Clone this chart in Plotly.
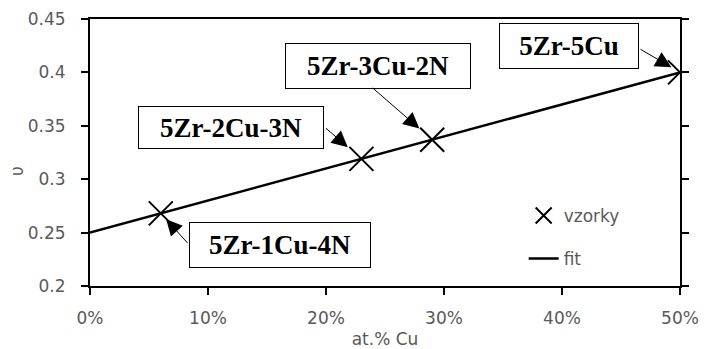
import plotly.graph_objects as go

# data
sample_x = [0.060, 0.230, 0.290, 0.500]
sample_y = [0.268, 0.319, 0.337, 0.400]
sample_labels = ["5Zr-1Cu-4N", "5Zr-2Cu-3N", "5Zr-3Cu-2N", "5Zr-5Cu"]
fit_x = [0.0, 0.5]
fit_y = [0.25, 0.40]
x_ticks = [0.0, 0.1, 0.2, 0.3, 0.4, 0.5]
y_ticks = [0.2, 0.25, 0.3, 0.35, 0.4, 0.45]

# label box placement (pixel offsets from the point) and arrow geometry
box_shift = {
    "5Zr-1Cu-4N": (119, -32, 180, 44),
    "5Zr-2Cu-3N": (-130, 31, 184, 41),
    "5Zr-3Cu-2N": (-54, 74, 184, 44),
    "5Zr-5Cu": (-111, 26, 138, 44),
}
arrow_tail = {
    "5Zr-1Cu-4N": (28, 31, 8),
    "5Zr-2Cu-3N": (-37, -32, 18),
    "5Zr-3Cu-2N": (-61, -53, 17),
    "5Zr-5Cu": (-41, -24, 10),
}

TICK_FONT = dict(family="DejaVu Sans", size=17, color="#595959")

fig = go.Figure()
fig.add_trace(go.Scatter(
    x=fit_x, y=fit_y, mode="lines", name="fit",
    line=dict(color="black", width=2.5), legendgroup="b", legendrank=2,
))
fig.add_trace(go.Scatter(
    x=sample_x, y=sample_y, mode="markers", name="vzorky",
    marker=dict(symbol="x-thin", size=24, line=dict(color="black", width=2)),
    legendgroup="a", legendrank=1,
))

annotations = []
for px, py, lab in zip(sample_x, sample_y, sample_labels):
    xs, ys, w, h = box_shift[lab]
    annotations.append(dict(
        x=px, y=py, xref="x", yref="y", text=lab, showarrow=False,
        xshift=xs, yshift=ys, width=w, height=h, borderpad=0,
        bordercolor="black", borderwidth=1, bgcolor="white",
        font=dict(family="Liberation Serif", size=27, color="black", weight="bold"),
        xanchor="center", yanchor="middle", align="center", valign="middle",
    ))
    ax, ay, so = arrow_tail[lab]
    annotations.append(dict(
        x=px, y=py, xref="x", yref="y", text="", showarrow=True,
        ax=ax, ay=ay, arrowhead=2, arrowsize=3.2, arrowwidth=1,
        arrowcolor="black", standoff=so,
    ))

annotations.append(dict(
    x=-0.124, y=0.43, xref="paper", yref="paper", text="υ", showarrow=False,
    textangle=-90, font=TICK_FONT, xanchor="center", yanchor="middle",
))

fig.update_layout(
    width=704, height=349,
    margin=dict(l=90, r=24, t=19, b=63),
    plot_bgcolor="white", paper_bgcolor="white",
    showlegend=True,
    legend=dict(
        x=0.735, y=0.33, xanchor="left", yanchor="top",
        font=TICK_FONT, bgcolor="rgba(0,0,0,0)",
        tracegroupgap=18, traceorder="grouped",
    ),
    annotations=annotations,
)
fig.update_xaxes(
    range=[0, 0.5], tickvals=x_ticks, tickformat=".0%",
    showgrid=False, zeroline=False, automargin=False,
    showline=True, linecolor="black", linewidth=2, mirror=True,
    ticks="outside", ticklen=7, tickwidth=2, tickcolor="black",
    tickfont=TICK_FONT, ticklabelstandoff=9,
    title=dict(text="at.% Cu", font=TICK_FONT, standoff=10),
)
fig.update_yaxes(
    range=[0.2, 0.45], tickvals=y_ticks,
    showgrid=False, zeroline=False, automargin=False,
    showline=True, linecolor="black", linewidth=2, mirror="ticks",
    ticks="outside", ticklen=7, tickwidth=2, tickcolor="black",
    tickfont=TICK_FONT, ticklabelstandoff=12,
)

fig.write_html("out.html")
